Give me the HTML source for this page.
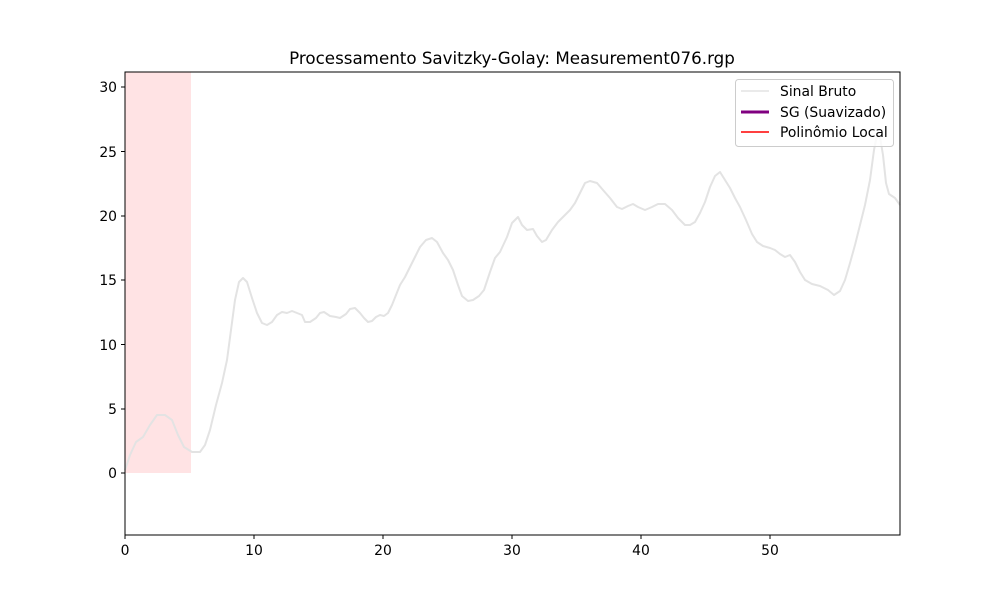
<!DOCTYPE html><html><head><meta charset="utf-8"><style>body{margin:0;background:#fff}svg{display:block;font-family:"DejaVu Sans","Liberation Sans",sans-serif}</style></head><body>
<svg width="1000" height="600" viewBox="0 0 1000 600">
<rect width="1000" height="600" fill="#fff"/>
<rect x="125" y="72" width="66" height="401" fill="#ffe3e4"/>
<polyline fill="none" stroke="#e3e3e3" stroke-width="2" stroke-linejoin="round" points="125,470 130,455 136,442 143,437 150,425 157,415 165,415 172,420 178,435 184,447 192,452 200,452 205,445 210,430 216,405 222,383 227,360 231,330 235,300 239,282 243,278 247,282 252,298 257,313 262,323 267,325 272,322 277,315 282,312 287,313 292,311 297,313 302,315 305,322 310,322 316,318 320,313 324,312 330,316 336,317 340,318 346,314 350,309 355,308 360,313 364,318 368,322 372,321 376,317 380,315 384,316 388,313 392,305 396,295 400,285 405,277 410,267 415,257 420,247 426,240 432,238 437,242 443,253 448,260 453,270 458,285 462,296 468,301 473,300 479,296 484,290 490,272 495,258 500,252 507,237 512,223 518,217 522,225 527,230 533,229 537,236 542,242 546,240 552,230 558,222 565,215 570,210 575,203 580,193 585,183 590,181 597,183 603,190 610,198 617,207 622,209 628,206 633,204 638,207 645,210 652,207 658,204 665,204 672,210 678,218 685,225 690,225 695,222 700,213 705,202 710,187 715,176 720,172 725,180 730,188 735,198 740,207 746,220 752,234 757,242 763,246 770,248 775,250 780,254 785,257 790,255 795,262 800,272 805,280 812,284 820,286 828,290 834,295 840,291 845,280 850,263 855,245 860,225 865,205 870,180 874,150 877,135 880,137 883,155 886,183 889,194 895,198 900,205"/>
<rect x="125" y="72" width="775" height="463" fill="none" stroke="#000" stroke-width="1"/>
<g stroke="#000" stroke-width="1">
<line x1="125" y1="535" x2="125" y2="539"/><line x1="254" y1="535" x2="254" y2="539"/><line x1="383" y1="535" x2="383" y2="539"/><line x1="512" y1="535" x2="512" y2="539"/><line x1="641" y1="535" x2="641" y2="539"/><line x1="770" y1="535" x2="770" y2="539"/>
<line x1="121" y1="473" x2="125" y2="473"/><line x1="121" y1="409" x2="125" y2="409"/><line x1="121" y1="344.5" x2="125" y2="344.5"/><line x1="121" y1="280" x2="125" y2="280"/><line x1="121" y1="216" x2="125" y2="216"/><line x1="121" y1="151.5" x2="125" y2="151.5"/><line x1="121" y1="87" x2="125" y2="87"/>
</g>
<g font-size="13.9" fill="#000" text-anchor="middle">
<text x="125" y="555">0</text><text x="254" y="555">10</text><text x="383" y="555">20</text><text x="512" y="555">30</text><text x="641" y="555">40</text><text x="770" y="555">50</text>
</g>
<g font-size="13.9" fill="#000" text-anchor="end">
<text x="117" y="478">0</text><text x="117" y="414">5</text><text x="117" y="350">10</text><text x="117" y="285">15</text><text x="117" y="221">20</text><text x="117" y="157">25</text><text x="117" y="92">30</text>
</g>
<text x="512" y="64" font-size="16.7" text-anchor="middle">Processamento Savitzky-Golay: Measurement076.rgp</text>
<rect x="735.5" y="79.5" width="158" height="67" rx="3" fill="#fff" fill-opacity="0.8" stroke="#ccc"/>
<line x1="741" y1="91" x2="769" y2="91" stroke="#e3e3e3" stroke-width="1.5"/>
<line x1="741" y1="112" x2="769" y2="112" stroke="#800080" stroke-width="3"/>
<line x1="741" y1="132" x2="769" y2="132" stroke="#ff0000" stroke-width="1.5"/>
<g font-size="13.9" fill="#000"><text x="780" y="96">Sinal Bruto</text><text x="780" y="117">SG (Suavizado)</text><text x="780" y="137">Polinômio Local</text></g>
</svg></body></html>
